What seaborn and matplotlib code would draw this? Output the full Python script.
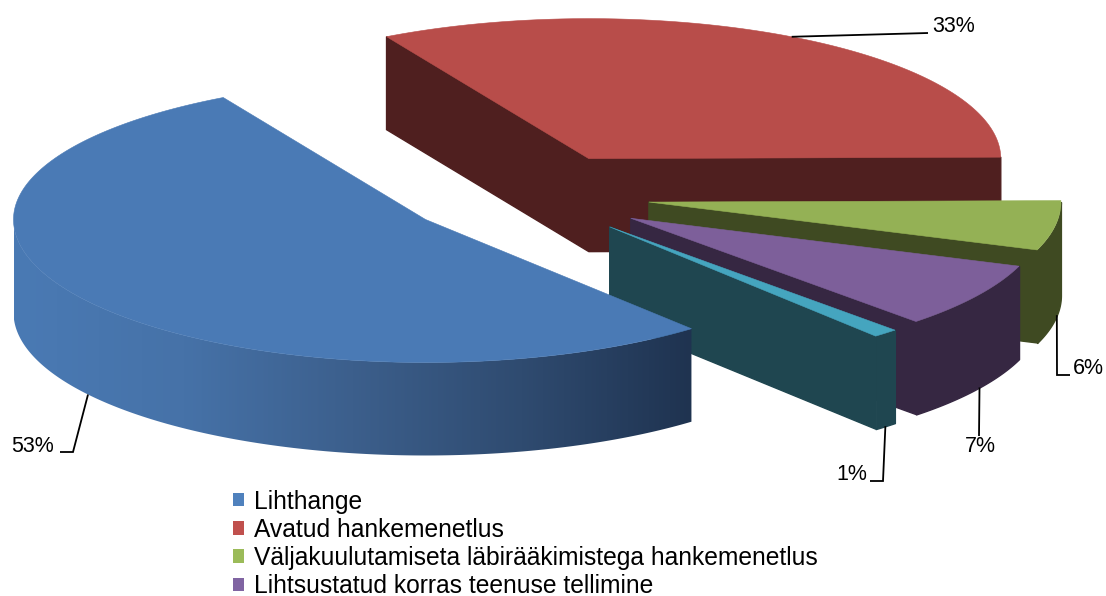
import numpy as np
import matplotlib
matplotlib.use('Agg')
import matplotlib.pyplot as plt
from matplotlib.patches import Patch, Polygon
import seaborn as sns

labels = ['Lihthange', 'Avatud hankemenetlus',
          'Väljakuulutamiseta läbirääkimistega hankemenetlus',
          'Lihtsustatud korras teenuse tellimine', 'Muu']
shares = [53, 33, 5.6, 7.4, 1]
legend_colors = ['#4f81bd', '#c0504d', '#9bbb59', '#8064a2']
top_colors = ['#4a7ab5', '#b84d4a', '#94b155', '#7d5f9a', '#45a5bf']
side_colors = ['#1f3350', '#4f1f1f', '#3f4a22', '#362742', '#1f4650']
blue_ramp = ['#4a7ab4', '#4672a8', '#3c5f8c', '#2f4b70', '#1f3350']

sns.set_theme(style='white')
plt.rcParams['font.family'] = ['Liberation Sans', 'DejaVu Sans']

# pie geometry, in pixels of the picture
CX, CY = 527, 195
RX = 412
RY_BACK, RY_FRONT = 140, 143
DEPTH = 93
EXPLODE = 0.3
START = -49.8

fig, ax = plt.subplots(figsize=(11.06, 5.96), dpi=100)
ax.set_position([0, 0, 1, 1])
ax.set_xlim(0, 1106)
ax.set_ylim(596, 0)
ax.axis('off')


def rim(apex, deg):
    r = np.radians(deg)
    s = np.sin(r)
    return apex[0] + RX * np.cos(r), apex[1] - np.where(s < 0, RY_FRONT, RY_BACK) * s


# slices run clockwise from START
ends = START - np.cumsum(shares) * 3.6
starts = np.r_[START, ends[:-1]]
apexes = []
for t0, t1 in zip(starts, ends):
    apexes.append(rim((CX, CY), (t0 + t1) / 2))
apexes = [(CX + EXPLODE * (a[0] - CX), CY + EXPLODE * (a[1] - CY)) for a in apexes]

# back to front, blue goes last
for i in [1, 2, 3, 4, 0]:
    t0, t1 = starts[i], ends[i]
    apex = apexes[i]

    # cut faces that look at the viewer
    for deg, normal in [(t0, t0 + 90), (t1, t1 - 90)]:
        if np.sin(np.radians(normal)) < 0:
            x, y = rim(apex, deg)
            ax.add_patch(Polygon([apex, (x, y), (x, y + DEPTH), (apex[0], apex[1] + DEPTH)],
                                 closed=True, fc=side_colors[i], ec=side_colors[i], lw=1))

    # outer wall, only the front half of the ellipse
    theta = np.linspace(t1, t0, 500)
    theta = theta[np.sin(np.radians(theta)) <= 0]
    if len(theta) > 1:
        xs, ys = rim(apex, theta)
        if i == 0:
            cmap = sns.blend_palette(blue_ramp, as_cmap=True)
            grad = np.linspace(0, 1, 256).reshape(1, -1)
            im = ax.imshow(grad, cmap=cmap, aspect='auto', zorder=5,
                           extent=[xs.min(), xs.max(), (ys + DEPTH).max() + 1, ys.min() - 1])
            wall = Polygon(np.r_[np.c_[xs, ys], np.c_[xs, ys + DEPTH][::-1]], closed=True,
                           transform=ax.transData)
            im.set_clip_path(wall)
            ax.set_xlim(0, 1106)
            ax.set_ylim(596, 0)
        else:
            ax.fill_between(xs, ys, ys + DEPTH, color=side_colors[i], lw=1)

    # top face
    theta = np.linspace(t1, t0, 300)
    xs, ys = rim(apex, theta)
    ax.add_patch(Polygon(np.r_[[apex], np.c_[xs, ys]], closed=True, zorder=6 if i == 0 else 1,
                         fc=top_colors[i], ec=top_colors[i], lw=0.4))

# leader lines start on the rim near the middle of each slice
anchor_shift = [0.2, 0.5, 1.4, 0.7, 0]
elbows = [[(73, 452), (60, 452)], [(928, 33)], [(1057, 375), (1070, 375)],
          [(979, 436)], [(883, 481), (870, 481)]]
text_pos = [(33, 446), (954, 27), (1088, 368), (980, 446), (852, 474)]
for i in range(5):
    mid = (starts[i] + ends[i]) / 2 + anchor_shift[i]
    x, y = rim(apexes[i], mid)
    if np.sin(np.radians(mid)) < 0:
        y = y + DEPTH
    px = [x] + [p[0] for p in elbows[i]]
    py = [y] + [p[1] for p in elbows[i]]
    ax.plot(px, py, color='black', lw=1.3, zorder=7,
            solid_capstyle='butt', solid_joinstyle='miter')
    ax.text(text_pos[i][0], text_pos[i][1], f'{shares[i]:.0f}%', fontsize=15.5, color='black',
            ha='center', va='center', zorder=8)

handles = [Patch(fc=c, ec='none') for c in legend_colors]
ax.legend(handles, labels[:4], loc='upper left', bbox_to_anchor=(233 / 1106, 1 - 489.5 / 596),
          frameon=False, fontsize=17.7, handlelength=0.45, handleheight=0.45, handletextpad=0.4,
          labelspacing=0.17, borderpad=0, borderaxespad=0, labelcolor='black')

fig.savefig('out.png', dpi=100)
